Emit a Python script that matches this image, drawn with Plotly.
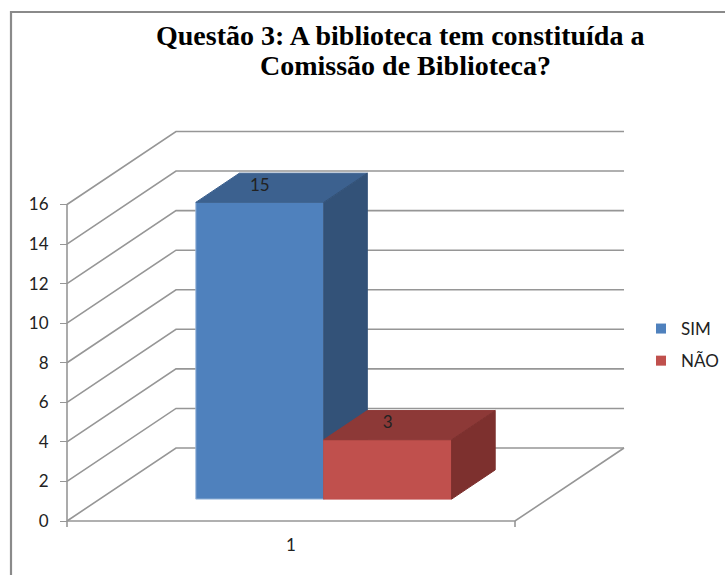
import plotly.graph_objects as go

# --- data -----------------------------------------------------------------
categories = ["1"]
series_names = ["SIM", "NÃO"]
series_values = [15, 3]
y_ticks = [0, 2, 4, 6, 8, 10, 12, 14, 16]
title_lines = ["Questão 3: A biblioteca tem constituída a", "Comissão de Biblioteca?"]

# --- style ----------------------------------------------------------------
front_colors = ["#4F81BD", "#C0504D"]
top_colors = ["#3C618F", "#8D3937"]
side_colors = ["#335278", "#7D302E"]
edge_colors = ["#9DB9DC", "#C0504D"]
GRID = "#969696"
TEXT = "#222222"
FONT = "Lato"

# --- oblique projection of the Excel-style 3D chart -----------------------
W, H = 725, 575
X0, Y0 = 67, 521            # pixel of floor front-left corner
FLOOR_W = 448               # floor width, pixels
DX, DY_PX = 109, 73         # pixel shift of full depth
UNIT = 316.5 / 16           # pixels per value unit
DY = DY_PX / UNIT
GAP = 0.2145
BAR_W = (1 - 2 * GAP) / len(series_values)
D_FRONT, D_BACK = 0.3, 0.7


def proj(u, d, v):
    return X0 + u * FLOOR_W + d * DX, v + d * DY


def poly(points):
    xy = [proj(*p) for p in points]
    xy.append(xy[0])
    return [p[0] for p in xy], [p[1] for p in xy]


fig = go.Figure()


def line(points, width=1.6):
    xy = [proj(*p) for p in points]
    fig.add_trace(go.Scatter(x=[p[0] for p in xy], y=[p[1] for p in xy], mode="lines",
                             line=dict(color=GRID, width=width), showlegend=False,
                             hoverinfo="skip"))


# walls and floor
top_tick = max(y_ticks)
for t in y_ticks:
    line([(0, 0, t), (0, 1, t), (1, 1, t)])
line([(0, 0, 0), (1, 0, 0), (1, 1, 0)])
line([(0, 0, 0), (0, 0, top_tick)])
# x-axis tick marks below the floor
tick_len = 6 / UNIT
for u in (0, 1):
    line([(u, 0, 0), (u, 0, -tick_len)])

# bars
for i, (name, val) in enumerate(zip(series_names, series_values)):
    u0 = GAP + i * BAR_W
    u1 = u0 + BAR_W
    faces = [
        ([(u0, D_FRONT, 0), (u1, D_FRONT, 0), (u1, D_FRONT, val), (u0, D_FRONT, val)], front_colors[i], edge_colors[i]),
        ([(u0, D_FRONT, val), (u1, D_FRONT, val), (u1, D_BACK, val), (u0, D_BACK, val)], top_colors[i], top_colors[i]),
        ([(u1, D_FRONT, 0), (u1, D_BACK, 0), (u1, D_BACK, val), (u1, D_FRONT, val)], side_colors[i], side_colors[i]),
    ]
    for pts, col, edge in faces:
        x, y = poly(pts)
        fig.add_trace(go.Scatter(x=x, y=y, mode="lines", fill="toself", fillcolor=col,
                                 line=dict(color=edge, width=1), showlegend=False,
                                 hoverinfo="skip"))
    lx, ly = proj((u0 + u1) / 2, D_FRONT, val)
    fig.add_trace(go.Scatter(x=[lx], y=[ly + 16 / UNIT], mode="text", text=[str(val)],
                             textposition="middle center",
                             textfont=dict(family=FONT, size=17, color=TEXT),
                             showlegend=False, hoverinfo="skip"))
    # legend entry
    fig.add_trace(go.Scatter(x=[None], y=[None], mode="markers", name=name, legendgroup=name,
                             marker=dict(symbol="square", size=10, color=front_colors[i])))

title_pos = [(400, 36), (405, 65)]
annotations = [dict(text=f"<b>{t}</b>", x=px / W, y=1 - py / H, xref="paper", yref="paper",
                    xanchor="center", yanchor="middle", showarrow=False,
                    font=dict(family="Liberation Serif", size=28, color="#000000"))
               for t, (px, py) in zip(title_lines, title_pos)]

fig.update_layout(
    width=W, height=H,
    margin=dict(l=0, r=0, t=0, b=0, autoexpand=False),
    paper_bgcolor="white", plot_bgcolor="white",
    font=dict(family=FONT, color=TEXT),
    annotations=annotations,
    xaxis=dict(range=[0, W], anchor="free", position=(H - Y0) / H, showgrid=False, zeroline=False,
               showline=False, tickmode="array", automargin=False,
               tickvals=[proj(0.5, 0, 0)[0]], ticktext=categories,
               ticks="", ticklabelstandoff=12, tickfont=dict(family=FONT, size=17, color=TEXT)),
    yaxis=dict(range=[-(H - Y0) / UNIT, Y0 / UNIT], anchor="free", position=X0 / W,
               showgrid=False, zeroline=False, showline=False, tickmode="array", automargin=False,
               tickvals=y_ticks, ticks="outside", ticklen=7, tickwidth=1.4, tickcolor=GRID,
               ticklabelstandoff=8,
               tickfont=dict(family=FONT, size=17, color=TEXT)),
    legend=dict(x=641 / W, xanchor="left", y=1 - 311 / H, yanchor="top",
                font=dict(family=FONT, size=17, color=TEXT),
                tracegroupgap=7, itemwidth=30, bgcolor="rgba(0,0,0,0)"),
    showlegend=True,
    shapes=[dict(type="path", xref="paper", yref="paper",
                 path=f"M {11/W} 0 L {11/W} {1-12/H} L 1 {1-12/H}",
                 line=dict(color="#8A8A8A", width=2.2))],
)

fig.write_html("out.html", config={"displayModeBar": False},
               post_script="document.body.style.margin='0';")
